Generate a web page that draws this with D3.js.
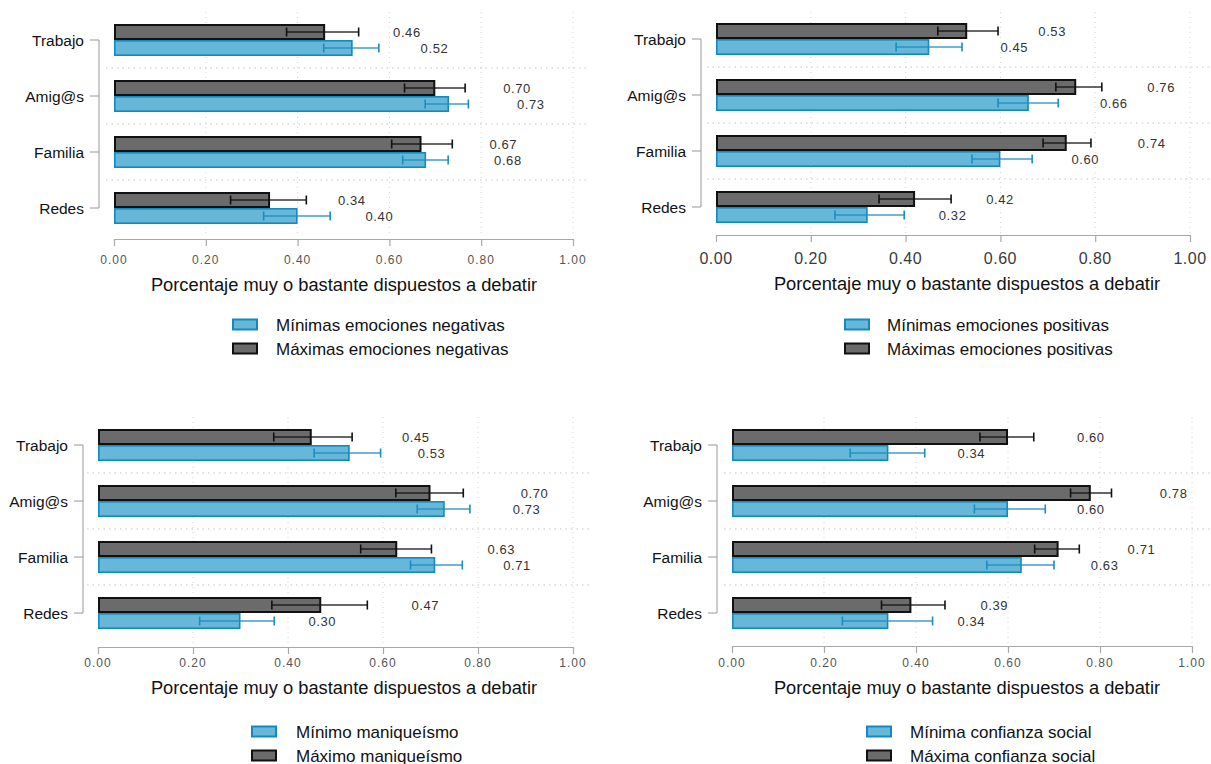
<!DOCTYPE html>
<html><head><meta charset="utf-8">
<script src="https://cdn.jsdelivr.net/npm/d3@7"></script>
<style>
body{margin:0;background:#fff;}
svg{display:block;font-family:"Liberation Sans",Arial,sans-serif;}
</style></head>
<body><svg id="c" width="1211" height="764"></svg>
<script>
// ---- data ----
const categories = ["Trabajo", "Amig@s", "Familia", "Redes"];
const tickValues = [0, 0.2, 0.4, 0.6, 0.8, 1.0];
const axisTitle = "Porcentaje muy o bastante dispuestos a debatir";

// Panel 1: emociones negativas
const negMin = [0.52, 0.73, 0.68, 0.40];
const negMinLo = [0.457, 0.678, 0.629, 0.326];
const negMinHi = [0.577, 0.772, 0.728, 0.471];
const negMax = [0.46, 0.70, 0.67, 0.34];
const negMaxLo = [0.376, 0.633, 0.605, 0.254];
const negMaxHi = [0.533, 0.765, 0.737, 0.419];
const negLegend = ["Mínimas emociones negativas", "Máximas emociones negativas"];

// Panel 2: emociones positivas
const posMin = [0.45, 0.66, 0.60, 0.32];
const posMinLo = [0.380, 0.595, 0.540, 0.251];
const posMinHi = [0.519, 0.722, 0.667, 0.397];
const posMax = [0.53, 0.76, 0.74, 0.42];
const posMaxLo = [0.468, 0.717, 0.690, 0.344];
const posMaxHi = [0.595, 0.814, 0.791, 0.496];
const posLegend = ["Mínimas emociones positivas", "Máximas emociones positivas"];

// Panel 3: maniqueísmo
const manMin = [0.53, 0.73, 0.71, 0.30];
const manMinLo = [0.455, 0.672, 0.658, 0.214];
const manMinHi = [0.595, 0.783, 0.767, 0.371];
const manMax = [0.45, 0.70, 0.63, 0.47];
const manMaxLo = [0.370, 0.627, 0.553, 0.366];
const manMaxHi = [0.535, 0.769, 0.702, 0.567];
const manLegend = ["Mínimo maniqueísmo", "Máximo maniqueísmo"];

// Panel 4: confianza social
const conMin = [0.34, 0.60, 0.63, 0.34];
const conMinLo = [0.257, 0.527, 0.554, 0.240];
const conMinHi = [0.419, 0.681, 0.700, 0.436];
const conMax = [0.60, 0.78, 0.71, 0.39];
const conMaxLo = [0.539, 0.736, 0.658, 0.325];
const conMaxHi = [0.656, 0.825, 0.755, 0.463];
const conLegend = ["Mínima confianza social", "Máxima confianza social"];

// ---- layout ----
const panels = [
  {min:negMin,minLo:negMinLo,minHi:negMinHi,max:negMax,maxLo:negMaxLo,maxHi:negMaxHi,legend:negLegend,
   x0:114,x1:573,yT:40,yB:208,axisY:239,tickY:264,tickFont:12,tickLS:1,titleX:344,titleY:291,
   swX:232,txX:276,legY:[325,349],sep:[106,588],offMax:0.148,offMin:0.148,gridTop:12},
  {min:posMin,minLo:posMinLo,minHi:posMinHi,max:posMax,maxLo:posMaxLo,maxHi:posMaxHi,legend:posLegend,
   x0:716,x1:1190,yT:39,yB:207,axisY:235,tickY:264,tickFont:16,tickLS:0.5,titleX:967,titleY:290,
   swX:844,txX:887,legY:[325,349],sep:[707,1211],offMax:0.15,offMin:0.15,gridTop:12},
  {min:manMin,minLo:manMinLo,minHi:manMinHi,max:manMax,maxLo:manMaxLo,maxHi:manMaxHi,legend:manLegend,
   x0:98,x1:573,yT:445,yB:613,axisY:647,tickY:667,tickFont:12,tickLS:1,titleX:344,titleY:694,
   swX:251,txX:296,legY:[732,756],sep:[87,589],offMax:0.19,offMin:0.143,gridTop:417},
  {min:conMin,minLo:conMinLo,minHi:conMinHi,max:conMax,maxLo:conMaxLo,maxHi:conMaxHi,legend:conLegend,
   x0:732,x1:1192,yT:445,yB:613,axisY:646,tickY:667,tickFont:12,tickLS:1,titleX:967,titleY:694,
   swX:866,txX:910,legY:[732,756],sep:[724,1211],offMax:0.15,offMin:0.15,gridTop:417}
];

const BLUE_FILL = "#67b8d8", BLUE_STROKE = "#1489bf", BLUE_ERR = "#1d8cbf";
const GRAY_FILL = "#6b6b6b", GRAY_STROKE = "#111", GRAY_ERR = "#111";
const svg = d3.select("#c");

panels.forEach(p => {
  const g = svg.append("g");
  const x = d3.scaleLinear().domain([0, 1]).range([p.x0, p.x1]);
  const y = d3.scalePoint().domain(categories).range([p.yT, p.yB]);
  const sub = d3.scaleBand().domain(["max", "min"]).range([-16, 16]).padding(0);
  const step = y.step();

  // vertical dotted gridlines
  g.selectAll(".vg").data(tickValues.slice(1)).join("line")
    .attr("x1", d => x(d)).attr("x2", d => x(d))
    .attr("y1", p.gridTop).attr("y2", p.axisY - 2)
    .attr("stroke", "#d6d6d6").attr("stroke-width", 1).attr("stroke-dasharray", "1,4");

  // horizontal dotted separators
  g.selectAll(".hs").data(categories.slice(0, -1)).join("line")
    .attr("x1", p.sep[0]).attr("x2", p.sep[1])
    .attr("y1", d => y(d) + step / 2).attr("y2", d => y(d) + step / 2)
    .attr("stroke", "#c4c4c4").attr("stroke-width", 1).attr("stroke-dasharray", "1.5,4");

  // series
  const series = [
    {key: "max", vals: p.max, lo: p.maxLo, hi: p.maxHi, fill: GRAY_FILL, stroke: GRAY_STROKE, err: GRAY_ERR, sw: 2, off: p.offMax},
    {key: "min", vals: p.min, lo: p.minLo, hi: p.minHi, fill: BLUE_FILL, stroke: BLUE_STROKE, err: BLUE_ERR, sw: 1.6, off: p.offMin}
  ];
  series.forEach(s => {
    const bh = sub.bandwidth();
    const top = c => y(c) + sub(s.key);
    g.selectAll(".bar-" + s.key).data(categories).join("rect")
      .attr("x", x(0) + s.sw / 2)
      .attr("y", c => top(c) + s.sw / 2)
      .attr("width", (c, i) => x(s.vals[i]) - x(0) - s.sw)
      .attr("height", bh - s.sw)
      .attr("fill", s.fill).attr("stroke", s.stroke).attr("stroke-width", s.sw);
    // error bars
    const eg = g.append("g").attr("stroke", s.err).attr("stroke-width", 1.6);
    categories.forEach((c, i) => {
      const cy = top(c) + bh / 2;
      eg.append("line").attr("x1", x(s.lo[i])).attr("x2", x(s.hi[i])).attr("y1", cy).attr("y2", cy)
        .attr("stroke-opacity", 0.85);
      [s.lo[i], s.hi[i]].forEach(v => {
        eg.append("line").attr("x1", x(v)).attr("x2", x(v)).attr("y1", cy - 4.5).attr("y2", cy + 4.5);
      });
    });
    // value labels
    g.selectAll(".lab-" + s.key).data(categories).join("text")
      .attr("x", (c, i) => x(s.vals[i] + s.off))
      .attr("y", c => top(c) + bh / 2 + 4.5)
      .attr("font-size", 13).attr("letter-spacing", 0.6).attr("fill", "#333")
      .text((c, i) => d3.format(".2f")(s.vals[i]));
  });

  // y bracket axis
  const bx = p.x0 - 15;
  g.append("line").attr("x1", bx).attr("x2", bx).attr("y1", y(categories[0])).attr("y2", y(categories[categories.length - 1]))
    .attr("stroke", "#a8a8a8").attr("stroke-width", 1.2);
  g.selectAll(".yt").data(categories).join("line")
    .attr("x1", bx - 9).attr("x2", bx).attr("y1", d => y(d)).attr("y2", d => y(d))
    .attr("stroke", "#a8a8a8").attr("stroke-width", 1.2);
  g.selectAll(".yl").data(categories).join("text")
    .attr("x", bx - 15).attr("y", d => y(d) + 5.5)
    .attr("text-anchor", "end").attr("font-size", 15.5).attr("fill", "#111")
    .text(d => d);

  // x axis
  const xa = g.append("g").attr("transform", `translate(0,${p.axisY})`)
    .call(d3.axisBottom(x).tickValues(tickValues).tickSize(7).tickSizeOuter(0).tickFormat(d3.format(".2f")));
  xa.select(".domain").attr("stroke", "#a8a8a8").attr("stroke-width", 1.2);
  xa.selectAll(".tick line").attr("stroke", "#a8a8a8").attr("stroke-width", 1.2);
  xa.selectAll(".tick text").remove();
  g.selectAll(".xl").data(tickValues).join("text")
    .attr("x", d => x(d)).attr("y", p.tickY)
    .attr("text-anchor", "middle").attr("font-size", p.tickFont).attr("letter-spacing", p.tickLS)
    .attr("fill", p.tickFont > 14 ? "#3a3a3a" : "#555")
    .text(d => d3.format(".2f")(d));

  // axis title
  g.append("text").attr("x", p.titleX).attr("y", p.titleY)
    .attr("text-anchor", "middle").attr("font-size", 18.3).attr("fill", "#111").text(axisTitle);

  // legend
  const legItems = [
    {label: p.legend[0], fill: BLUE_FILL, stroke: BLUE_STROKE},
    {label: p.legend[1], fill: GRAY_FILL, stroke: GRAY_STROKE}
  ];
  legItems.forEach((it, i) => {
    const ly = p.legY[i];
    g.append("rect").attr("x", p.swX + 1).attr("y", ly - 5.5).attr("width", 24).attr("height", 10)
      .attr("fill", it.fill).attr("stroke", it.stroke).attr("stroke-width", 2);
    g.append("text").attr("x", p.txX).attr("y", ly + 5.5).attr("font-size", 17).attr("fill", "#111").text(it.label);
  });
});
</script>
</body></html>
